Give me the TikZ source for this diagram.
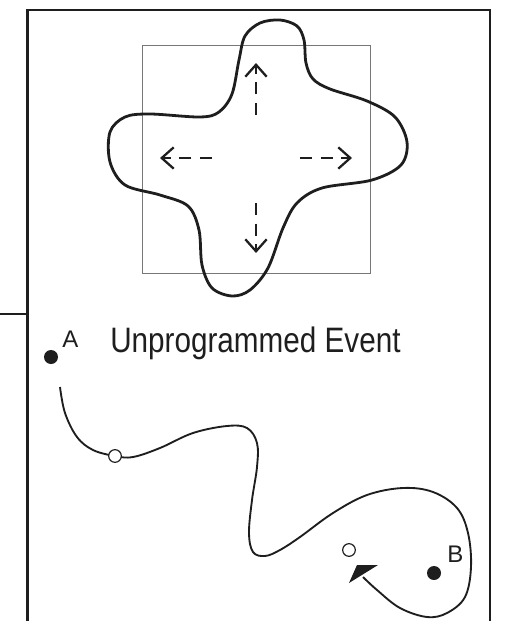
\documentclass[tikz,border=0pt]{standalone}
\usepackage{fontspec}
\usepackage{graphicx}
\setmainfont{Liberation Sans}
\usetikzlibrary{arrows.meta}
\definecolor{ink}{HTML}{1E1E1E}
\definecolor{boxgray}{HTML}{777777}
\begin{document}
\begin{tikzpicture}[x=0.75pt,y=-0.75pt,
  frame/.style={draw=ink,line width=1.7pt},
  thinbox/.style={draw=boxgray,line width=0.75pt},
  blob/.style={draw=ink,line width=2.1pt},
  dasharrow/.style={draw=ink,line width=1.7pt,dash pattern=on 9pt off 6.5pt,
     -{Straight Barb[length=9pt,width=16pt,line width=1.7pt]}},
  pathline/.style={draw=ink,line width=1.4pt},
  bigdot/.style={circle,fill=ink,inner sep=0pt,minimum size=10.5pt},
  opendot/.style={circle,draw=ink,fill=white,line width=0.9pt,inner sep=0pt,minimum size=9.5pt},
  lab/.style={inner sep=0pt,anchor=base west,text=ink,font=\fontsize{18pt}{20pt}\selectfont},
  title/.style={inner sep=0pt,anchor=base west,text=ink,font=\fontsize{26.5pt}{28pt}\selectfont}
]
\useasboundingbox (0,0) rectangle (506,621);
% outer frame
\draw[frame] (27.5,621) -- (27.5,10) -- (490,10) -- (490,621);
\draw[frame] (0,314) -- (27.5,314);
% inner square
\draw[thinbox] (142,45) rectangle (370,273);
% blob
\draw[blob] plot[smooth cycle,tension=0.55] coordinates {
 (280,20) (297,26) (304,40) (306,63) (313,79) (330,89) (367,101) (395,117)
 (407,142) (401,165) (372,180) (322,188) (297,203) (283,228) (268,268)
 (250,290) (232,296) (212,288) (202,265) (199,230) (188,206) (160,195)
 (125,185) (110,162) (110,132) (125,117) (150,114) (200,117) (219,112)
 (232,94) (239,60) (245,36) (260,23)};
% dashed arrows
\coordinate (upS) at (256,115); \coordinate (upE) at (256,63);
\coordinate (dnS) at (256,203); \coordinate (dnE) at (256,253);
\coordinate (lfS) at (212,158); \coordinate (lfE) at (160,158);
\coordinate (rtS) at (300,158); \coordinate (rtE) at (352,158);
\draw[dasharrow] (upS) -- (upE);
\draw[dasharrow] (dnS) -- (dnE);
\draw[dasharrow] (lfS) -- (lfE);
\draw[dasharrow] (rtS) -- (rtE);
% labels
\node[bigdot] (dotA) at (51,357) {};
\node[lab] (labA) at (62,347) {A};
\node[title] (ttl) at (110,352) {\scalebox{0.84}[1]{Unprogrammed Event}};
\node[bigdot] (dotB) at (434,573) {};
\node[lab] (labB) at (447,562) {B};
% wandering path
\coordinate (pS) at (60,387);
\coordinate (pE) at (363,577);
\draw[pathline] plot[smooth,tension=0.6] coordinates {
 (pS) (65,413) (77,437) (93,450) (115,456) (133,457) (160,448) (193,433)
 (227,426) (247,428) (257,443) (257,467) (252,500) (249,533) (253,552)
 (265,556) (280,550) (300,537) (333,513) (367,495) (403,488) (433,492)
 (457,508) (468,533) (471,567) (465,597) (447,613) (427,617) (400,608)
 (377,590) (pE)};
\fill[ink] (349,583) -- (357,565) -- (378,565) -- cycle;
\node[opendot] (o1) at (115,456) {};
\node[opendot] (o2) at (349,550) {};
\end{tikzpicture}
\end{document}
